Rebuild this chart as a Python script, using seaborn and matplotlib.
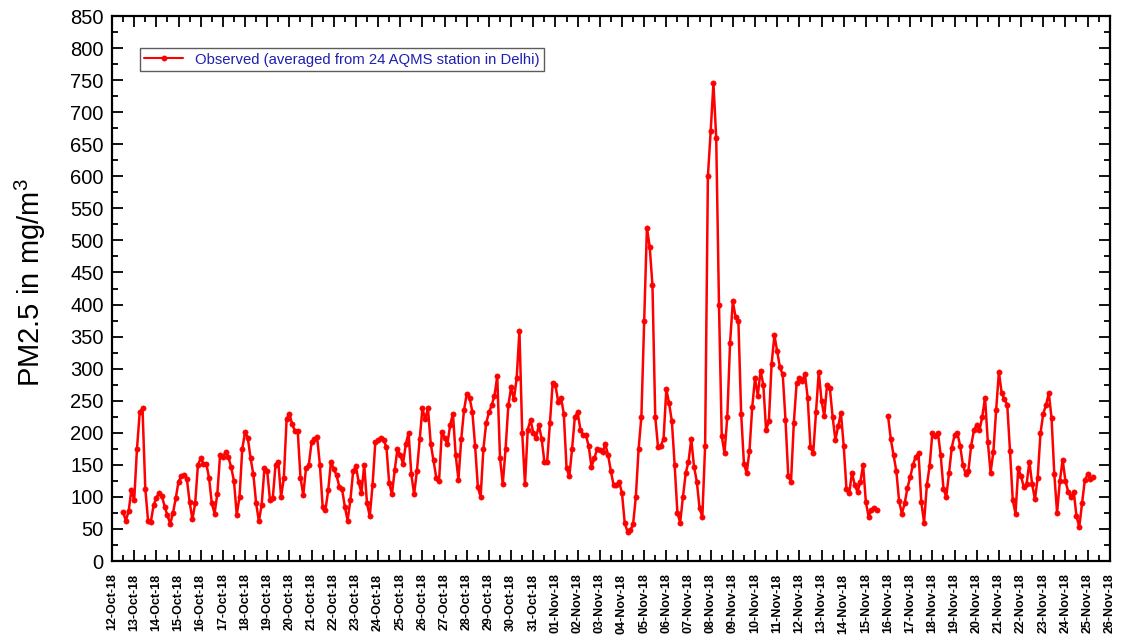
import pandas as pd
import matplotlib
matplotlib.use("Agg")
import matplotlib.pyplot as plt
import matplotlib.dates as mdates
from matplotlib.lines import Line2D
from matplotlib.ticker import MultipleLocator
import seaborn as sns

# 3-hourly PM2.5 averages, Delhi (24 AQMS stations)
# 12-Oct-18 12:00 .. 31-Oct-18 21:00
pm25_oct = [
    76, 63, 78, 111,
    95, 175, 232, 238, 113, 63, 61, 87,
    99, 106, 101, 85, 71, 58, 75, 98,
    124, 132, 134, 128, 92, 65, 90, 150,
    160, 152, 152, 130, 90, 74, 105, 166,
    162, 170, 162, 146, 125, 72, 100, 175,
    201, 192, 160, 135, 90, 62, 88, 145,
    140, 95, 98, 150, 155, 100, 130, 222,
    230, 213, 203, 203, 130, 103, 145, 150,
    185, 190, 193, 150, 85, 80, 110, 155,
    143, 134, 116, 112, 85, 63, 95, 140,
    148, 123, 106, 150, 90, 70, 118, 185,
    188, 192, 188, 178, 122, 104, 142, 175,
    165, 152, 182, 200, 135, 104, 140, 190,
    238, 221, 238, 183, 157, 130, 125, 202,
    192, 182, 212, 230, 165, 127, 190, 235,
    261, 255, 233, 180, 115, 100, 175, 215,
    232, 243, 258, 288, 160, 120, 175, 243,
    271, 252, 285, 359, 200, 120, 205, 220,
    200, 192, 212, 191, 155, 155, 215, 278,
]

# 01-Nov-18 00:00 .. 15-Nov-18 12:00
pm25_nov_first = [
    274, 248, 255, 230, 145, 132, 175, 225,
    232, 205, 196, 196, 179, 147, 160, 174,
    173, 170, 182, 165, 140, 118, 118, 123,
    106, 59, 46, 48, 57, 100, 175, 225,
    375, 520, 490, 430, 225, 178, 180, 190,
    268, 246, 218, 150, 75, 60, 100, 137,
    155, 190, 147, 124, 82, 69, 180, 600,
    670, 745, 660, 400, 195, 168, 225, 340,
    405, 380, 375, 230, 152, 137, 172, 240,
    285, 258, 297, 275, 204, 218, 308, 352,
    327, 302, 291, 220, 132, 124, 215, 277,
    285, 280, 292, 255, 178, 168, 232, 295,
    250, 226, 275, 270, 225, 189, 210, 231,
    180, 112, 106, 138, 118, 108, 123, 150,
    92, 69, 80, 83, 80,
]

# 16-Nov-18 00:00 .. 25-Nov-18 06:00 (after the data gap)
pm25_nov_second = [
    226, 190, 165, 140, 93, 74, 90, 114,
    131, 150, 163, 168, 92, 60, 118, 148,
    200, 195, 200, 165, 113, 100, 137, 177,
    196, 200, 180, 150, 136, 141, 180, 204,
    212, 204, 225, 255, 186, 138, 170, 235,
    295, 262, 252, 244, 172, 95, 74, 145,
    132, 115, 120, 155, 120, 96, 130, 199,
    230, 243, 262, 223, 135, 75, 125, 158,
    125, 108, 100, 108, 70, 53, 90, 126,
    135, 128, 131,
]

series_starts = ["2018-10-12 12:00", "2018-11-01 00:00", "2018-11-16 00:00"]
series_segments = [0, 0, 1]
sample_step = "3h"
legend_label = "Observed (averaged from 24 AQMS station in Delhi)"
y_label = "PM2.5 in mg/m$^3$"


def build_frame(start, values, segment):
    times = pd.date_range(start, periods=len(values), freq=sample_step)
    return pd.DataFrame({"time": times, "pm25": values, "segment": segment})


df = pd.concat(
    [build_frame(s, v, g) for s, v, g in
     zip(series_starts, [pm25_oct, pm25_nov_first, pm25_nov_second], series_segments)],
    ignore_index=True,
)

sns.set_theme(style="ticks")
plt.rcParams["font.family"] = ["Liberation Sans", "DejaVu Sans"]
plt.rcParams["mathtext.fontset"] = "custom"
plt.rcParams["mathtext.rm"] = "Liberation Sans"
plt.rcParams["mathtext.it"] = "Liberation Sans"
for key in ["text.color", "axes.labelcolor", "xtick.color", "ytick.color",
            "axes.edgecolor"]:
    plt.rcParams[key] = "black"

fig = plt.figure(figsize=(11.27, 6.4), dpi=100)
ax = fig.add_axes([0.0994, 0.1234, 0.8853, 0.8516])

red = "#ff0000"
sns.lineplot(
    data=df, x="time", y="pm25", units="segment", estimator=None,
    color=red, lw=1.8, marker="o", markersize=3.8,
    markeredgecolor=red, markeredgewidth=0.4, ax=ax, legend=False,
)

ax.set_xlim(pd.Timestamp("2018-10-12"), pd.Timestamp("2018-11-26"))
ax.set_ylim(0, 850)

ax.xaxis.set_major_locator(mdates.DayLocator())
ax.xaxis.set_minor_locator(mdates.HourLocator(byhour=[12]))
ax.xaxis.set_major_formatter(mdates.DateFormatter("%d-%b-%y"))
ax.yaxis.set_major_locator(MultipleLocator(50))
ax.yaxis.set_minor_locator(MultipleLocator(25))

ax.tick_params(which="both", direction="in", top=True, right=True,
               width=1.3, color="black")
ax.tick_params(which="major", length=8)
ax.tick_params(which="minor", length=4)
ax.tick_params(axis="y", labelsize=14.5, pad=6, labelcolor="black")
ax.tick_params(axis="x", labelsize=9, labelrotation=90, pad=9,
               labelcolor="black")
for lab in ax.get_xticklabels():
    lab.set_fontweight("bold")

for sp in ax.spines.values():
    sp.set_linewidth(1.6)
    sp.set_color("black")

ax.set_xlabel("")
ax.set_ylabel(y_label, fontsize=21, color="black")
ax.yaxis.set_label_coords(-0.064, 0.51)

handle = Line2D([], [], color=red, lw=1.5, marker="o", markersize=3.2,
                markeredgecolor=red)
leg = ax.legend(
    [handle], [legend_label], loc="upper left",
    bbox_to_anchor=(0.028, 0.941), borderaxespad=0, fontsize=10.7,
    frameon=True, fancybox=False, edgecolor="#333333", handlelength=2.6,
    labelcolor="#1f1fb0", borderpad=0.3,
)
leg.get_frame().set_linewidth(1.0)

fig.savefig("out.png", dpi=100)
